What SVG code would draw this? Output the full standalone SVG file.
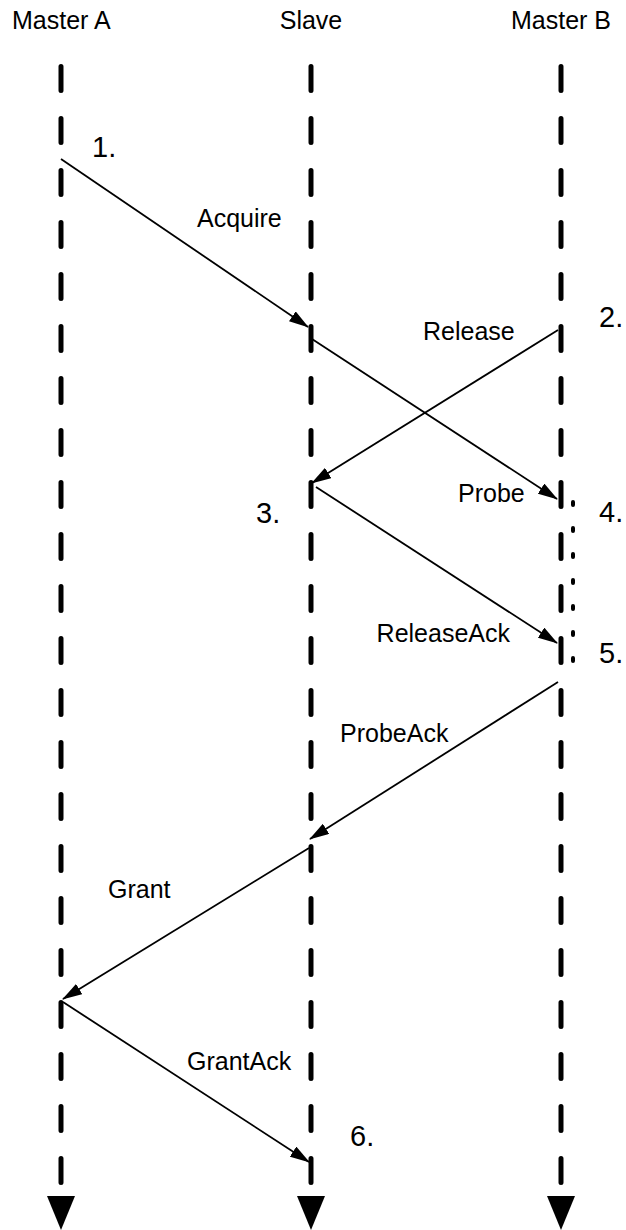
<svg xmlns="http://www.w3.org/2000/svg" width="626" height="1230" viewBox="0 0 626 1230">
<style>
.lbl{font-family:"Liberation Sans",Arial,Helvetica,sans-serif;font-size:25px;fill:#000}
.num{font-family:"Liberation Sans",Arial,Helvetica,sans-serif;font-size:29px;fill:#000}
.life{stroke:#000;stroke-width:5;stroke-dasharray:24 28;stroke-linecap:round;fill:none}
.msg{stroke:#000;stroke-width:1.8;fill:none;marker-end:url(#ah)}
.dots{stroke:#000;stroke-width:4;stroke-dasharray:3 23;stroke-linecap:round;fill:none}
</style>
<defs>
<marker id="ah" markerUnits="userSpaceOnUse" viewBox="0 0 20 12" refX="19" refY="6" markerWidth="20" markerHeight="12" orient="auto">
<path d="M0,0 L20,6 L0,12 z" fill="#000"/>
</marker>
</defs>
<rect width="626" height="1230" fill="#fff"/>
<g id="masterA">
<text class="lbl" x="12" y="29">Master A</text>
<line class="life" x1="61" y1="66.5" x2="61" y2="1183"/>
<polygon points="47,1196 75,1196 61,1230" fill="#000"/>
</g>
<g id="slave">
<text class="lbl" x="311" y="29" text-anchor="middle">Slave</text>
<line class="life" x1="311" y1="66.5" x2="311" y2="1183"/>
<polygon points="297,1196 325,1196 311,1230" fill="#000"/>
</g>
<g id="masterB">
<text class="lbl" x="561" y="29" text-anchor="middle">Master B</text>
<line class="life" x1="561" y1="66.5" x2="561" y2="1183"/>
<polygon points="547,1196 575,1196 561,1230" fill="#000"/>
<line class="dots" x1="573" y1="502" x2="573" y2="662"/>
</g>
<g id="steps">
<text class="num" x="92" y="157">1.</text>
<text class="num" x="599" y="327">2.</text>
<text class="num" x="256" y="523">3.</text>
<text class="num" x="599" y="522">4.</text>
<text class="num" x="599" y="663">5.</text>
<text class="num" x="350" y="1146">6.</text>
</g>
<g id="connectors">
<line class="msg" x1="61" y1="159" x2="308" y2="327"/>
<line class="msg" x1="312" y1="339" x2="557" y2="499"/>
<line class="msg" x1="558" y1="330" x2="312" y2="483"/>
<line class="msg" x1="316" y1="487" x2="557" y2="643"/>
<line class="msg" x1="558" y1="682" x2="310" y2="839"/>
<line class="msg" x1="309" y1="848" x2="63" y2="999"/>
<line class="msg" x1="63" y1="1002" x2="309" y2="1162"/>
</g>
<g id="labels">
<text class="lbl" x="197" y="227">Acquire</text>
<text class="lbl" x="423" y="340">Release</text>
<text class="lbl" x="458" y="502">Probe</text>
<text class="lbl" x="510" y="642" text-anchor="end">ReleaseAck</text>
<text class="lbl" x="340" y="742">ProbeAck</text>
<text class="lbl" x="108" y="898">Grant</text>
<text class="lbl" x="187" y="1070">GrantAck</text>
</g>
</svg>
